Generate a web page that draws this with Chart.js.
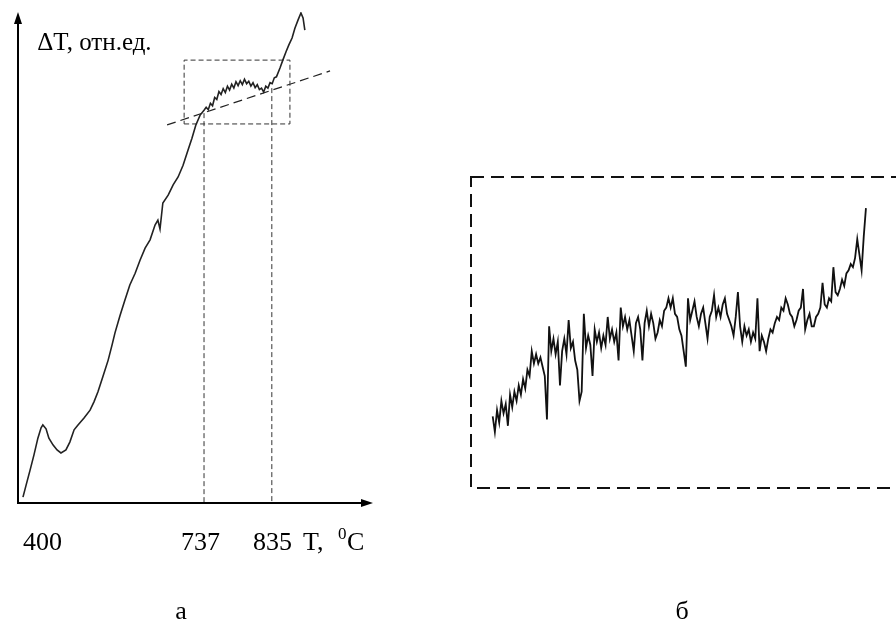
<!DOCTYPE html>
<html>
<head>
<meta charset="utf-8">
<script src="https://cdn.jsdelivr.net/npm/chart.js@4.4.0/dist/chart.umd.min.js"></script>
<style>
  html, body { margin: 0; padding: 0; background: #fff; overflow: hidden; }
  #wrap { position: relative; width: 896px; height: 623px; overflow: hidden; }
  #chartA { position: absolute; left: 0; top: 0; }
  #chartB { position: absolute; left: 400px; top: 0; }
</style>
</head>
<body>
<div id="wrap">
  <canvas id="chartA" width="400" height="623"></canvas>
  <canvas id="chartB" width="520" height="623"></canvas>
</div>
<script>
// panel "а": DTA curve, relative units (x 0..100 along T axis, y 0..100 along ΔT axis)
const aX = [1.4, 2.3, 3.4, 4.5, 5.6, 6.5, 7.0, 7.9, 8.7, 9.9,
  11.0, 12.1, 13.5, 14.6, 15.8, 16.9, 18.6, 20.3, 21.4, 22.5,
  23.9, 25.4, 26.5, 27.3, 28.7, 30.1, 31.5, 33.0, 34.4, 35.8,
  37.2, 38.6, 39.4, 40.0, 40.8, 42.3, 43.7, 45.1, 46.5, 47.9,
  49.0, 50.1, 51.3, 52.4, 53.0, 53.6, 54.2, 54.8, 55.4, 56.0,
  56.6, 57.2, 57.8, 58.4, 59.0, 59.6, 60.2, 60.8, 61.4, 62.0,
  62.6, 63.2, 63.8, 64.4, 65.0, 65.6, 66.2, 66.8, 67.4, 68.0,
  68.6, 69.2, 69.8, 70.4, 71.0, 71.6, 72.2, 72.8, 73.8, 74.6,
  75.5, 76.3, 77.2, 78.0, 78.9, 79.7, 80.3, 80.8];
const aY = [1.2, 3.7, 6.7, 9.8, 13.2, 15.3, 15.9, 15.1, 13.2, 11.8,
  10.8, 10.2, 10.8, 12.4, 14.9, 15.9, 17.3, 18.9, 20.6, 22.6,
  25.7, 29.1, 32.2, 34.6, 38.1, 41.3, 44.4, 46.8, 49.5, 51.9,
  53.6, 56.6, 57.6, 55.8, 61.1, 62.7, 64.8, 66.4, 68.8, 71.9,
  74.3, 77.0, 79.0, 80.0, 80.6, 80.1, 81.4, 80.9, 82.6, 82.2,
  83.8, 83.2, 84.4, 83.6, 84.9, 84.1, 85.3, 84.5, 85.8, 85.0,
  86.0, 85.2, 86.3, 85.4, 85.9, 84.9, 85.6, 84.6, 85.2, 84.2,
  84.5, 83.7, 84.9, 84.5, 85.6, 85.4, 86.6, 86.8, 88.6, 90.2,
  91.9, 93.3, 94.7, 96.7, 98.4, 99.8, 98.8, 96.3];

// tick labels on the T axis and where they sit (same relative units)
const tickLabels = ["400", "737", "835"];
const tickPos = [6.9, 51.4, 71.7];

// construction lines
const zoomBox = [46.8, 76.6, 77.2, 90.2];   // x0, x1, y0, y1
const tangentX = [42.0, 87.9];
const tangentY = [77.0, 88.0];
const markX = [52.4, 71.5];                 // 737 and 835
const markTop = [79.4, 84.5];

// panel "б": enlarged fragment, sampled every 0.5 unit from x = 5
const bStart = 5;
const bStep = 0.5;
const bY = [
  23, 18, 25, 21, 28, 24, 27, 20, 30, 26,
  31, 28, 33, 30, 35, 32, 38, 36, 44, 40,
  43, 40, 42, 39, 36, 22, 52, 44, 48, 43,
  47, 33, 44, 48, 43, 54, 45, 47, 41, 38,
  28, 31, 56, 45, 49, 46, 36, 51, 47, 50,
  45, 49, 46, 55, 48, 51, 47, 50, 41, 58,
  52, 55, 51, 54, 49, 44, 53, 55, 51, 41,
  53, 57, 52, 56, 53, 48, 50, 54, 52, 57,
  58, 61, 58, 61, 56, 55, 51, 49, 44, 39,
  61, 54, 57, 60, 55, 52, 56, 58, 53, 48,
  55, 57, 62, 55, 58, 55, 59, 61, 56, 54,
  52, 49, 55, 63, 52, 47, 52, 49, 51, 47,
  50, 48, 61, 44, 49, 47, 44, 48, 51, 50,
  53, 55, 54, 58, 57, 61, 59, 56, 55, 52,
  54, 57, 58, 64, 51, 54, 56, 52, 52, 55,
  56, 58, 66, 59, 58, 61, 60, 71, 63, 62,
  64, 67, 65, 69, 70, 72, 71, 74, 80, 75,
  70, 81, 90];

const FONT = '"Liberation Serif", "Times New Roman", serif';

const lineStyle = (color, width, dash) => ({
  borderColor: color,
  borderWidth: width,
  borderDash: dash || [],
  pointRadius: 0,
  fill: false,
  tension: 0,
});

const axesPlugin = {
  id: "axesA",
  afterDraw(chart) {
    const ctx = chart.ctx;
    const ca = chart.chartArea;
    const sx = chart.scales.x;
    const sy = chart.scales.y;
    ctx.save();
    ctx.strokeStyle = "#000";
    ctx.fillStyle = "#000";
    ctx.lineWidth = 2;
    ctx.beginPath();
    ctx.moveTo(ca.left, ca.top + 8);
    ctx.lineTo(ca.left, ca.bottom);
    ctx.lineTo(ca.right - 8, ca.bottom);
    ctx.stroke();
    // arrow heads
    ctx.beginPath();
    ctx.moveTo(ca.left, ca.top);
    ctx.lineTo(ca.left - 4, ca.top + 12);
    ctx.lineTo(ca.left + 4, ca.top + 12);
    ctx.closePath();
    ctx.fill();
    ctx.beginPath();
    ctx.moveTo(ca.right, ca.bottom);
    ctx.lineTo(ca.right - 12, ca.bottom - 4);
    ctx.lineTo(ca.right - 12, ca.bottom + 4);
    ctx.closePath();
    ctx.fill();

    ctx.font = "26px " + FONT;
    ctx.textBaseline = "alphabetic";
    ctx.textAlign = "center";
    const base = ca.bottom + 47;
    tickLabels.forEach((t, i) => ctx.fillText(t, sx.getPixelForValue(tickPos[i]), base));

    // axis titles
    ctx.textAlign = "left";
    const tx = sx.getPixelForValue(80.3);
    ctx.fillText("T,", tx, base);
    ctx.font = "17px " + FONT;
    ctx.fillText("0", tx + 35, base - 11);
    ctx.font = "26px " + FONT;
    ctx.fillText("C", tx + 44, base);
    ctx.font = "25px " + FONT;
    ctx.fillText("ΔT, отн.ед.", sx.getPixelForValue(5.4), sy.getPixelForValue(92.3));

    ctx.font = "26px " + FONT;
    ctx.textAlign = "center";
    ctx.fillText("а", 181, 619);
    ctx.restore();
  },
};

const boxPlugin = {
  id: "boxB",
  beforeDatasetsDraw(chart) {
    const ctx = chart.ctx;
    const ca = chart.chartArea;
    ctx.save();
    ctx.strokeStyle = "#111";
    ctx.lineWidth = 2;
    ctx.setLineDash([13, 7]);
    ctx.strokeRect(ca.left, ca.top, ca.right - ca.left, ca.bottom - ca.top);
    ctx.restore();
  },
  afterDraw(chart) {
    const ctx = chart.ctx;
    ctx.save();
    ctx.fillStyle = "#000";
    ctx.font = "26px " + FONT;
    ctx.textAlign = "center";
    ctx.fillText("б", 282, 619);
    ctx.restore();
  },
};

const hiddenScales = {
  x: { type: "linear", min: 0, max: 100, display: false },
  y: { type: "linear", min: 0, max: 100, display: false },
};

const aCurve = aX.map((x, i) => ({ x: x, y: aY[i] }));
const boxPts = [
  { x: zoomBox[0], y: zoomBox[2] }, { x: zoomBox[1], y: zoomBox[2] },
  { x: zoomBox[1], y: zoomBox[3] }, { x: zoomBox[0], y: zoomBox[3] },
  { x: zoomBox[0], y: zoomBox[2] },
];

const configA = {
  type: "line",
  data: {
    datasets: [
      { data: aCurve, ...lineStyle("#222", 1.6) },
      { data: boxPts, ...lineStyle("#333", 1, [5, 3]) },
      { data: tangentX.map((x, i) => ({ x: x, y: tangentY[i] })), ...lineStyle("#222", 1.2, [9, 5]) },
      { data: [{ x: markX[0], y: markTop[0] }, { x: markX[0], y: 0 }], ...lineStyle("#333", 1, [5, 3]) },
      { data: [{ x: markX[1], y: markTop[1] }, { x: markX[1], y: 0 }], ...lineStyle("#333", 1, [5, 3]) },
    ],
  },
  options: {
    responsive: false,
    animation: false,
    parsing: false,
    layout: { padding: { left: 18, right: 27, top: 12, bottom: 120 } },
    scales: hiddenScales,
    plugins: { legend: { display: false }, tooltip: { enabled: false } },
  },
  plugins: [axesPlugin],
};

const configB = {
  type: "line",
  data: {
    datasets: [
      { data: bY.map((y, i) => ({ x: bStart + i * bStep, y: y })), ...lineStyle("#111", 1.8) },
    ],
  },
  options: {
    responsive: false,
    animation: false,
    parsing: false,
    layout: { padding: { left: 71, right: 15, top: 177, bottom: 135 } },
    scales: hiddenScales,
    plugins: { legend: { display: false }, tooltip: { enabled: false } },
  },
  plugins: [boxPlugin],
};

var chartA = new Chart(document.getElementById("chartA"), configA);
var chartB = new Chart(document.getElementById("chartB"), configB);
</script>
</body>
</html>
